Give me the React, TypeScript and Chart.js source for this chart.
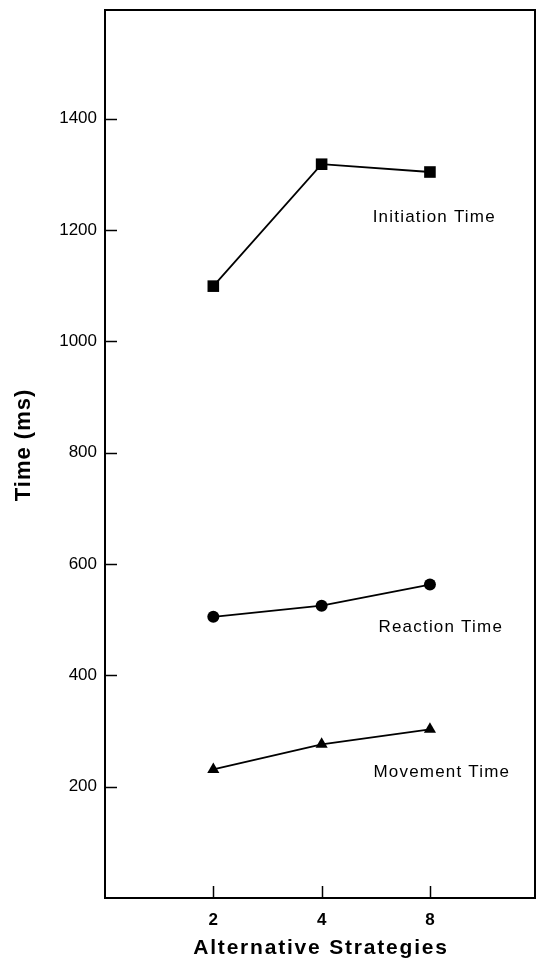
import React, { useEffect, useRef } from "react";
import { Chart, registerables } from "chart.js";

Chart.register(...registerables);

const xCategories = ["2", "4", "8"];
const xPositions = [1, 2, 3];
const initiationTime = [1099, 1318, 1304];
const reactionTime = [505, 525, 563];
const movementTime = [231, 276, 303];
const yTickValues = [200, 400, 600, 800, 1000, 1200, 1400];
const seriesLabels = ["Initiation Time", "Reaction Time", "Movement Time"];
const labelAnchorX = [3.04, 3.1, 3.11];
const labelAnchorY = [1223, 487, 225];
const xAxisTitle = "Alternative Strategies";
const yAxisTitle = "Time (ms)";

const FONT = '"Liberation Sans", Arial, sans-serif';

const toPoints = (vals: number[]) => vals.map((v, i) => ({ x: xPositions[i], y: v }));

const framePlugin = {
  id: "framePlugin",
  afterDraw(chart: any) {
    const { ctx, chartArea, scales } = chart;
    const { left, right, top, bottom } = chartArea;
    const x = scales.x;
    const y = scales.y;
    ctx.save();
    ctx.strokeStyle = "#000";
    ctx.lineWidth = 2;
    ctx.strokeRect(left, top, right - left, bottom - top);
    ctx.lineWidth = 1.5;
    yTickValues.forEach((v) => {
      const py = Math.round(y.getPixelForValue(v)) + 0.5;
      ctx.beginPath();
      ctx.moveTo(left, py);
      ctx.lineTo(left + 12, py);
      ctx.stroke();
    });
    xPositions.forEach((v) => {
      const px = Math.round(x.getPixelForValue(v)) + 0.5;
      ctx.beginPath();
      ctx.moveTo(px, bottom);
      ctx.lineTo(px, bottom - 12);
      ctx.stroke();
    });
    ctx.fillStyle = "#000";
    ctx.font = `17px ${FONT}`;
    (ctx as any).letterSpacing = "1.2px";
    ctx.textAlign = "center";
    ctx.textBaseline = "middle";
    seriesLabels.forEach((t, i) => {
      ctx.fillText(t, x.getPixelForValue(labelAnchorX[i]), y.getPixelForValue(labelAnchorY[i]));
    });
    ctx.font = `bold 21px ${FONT}`;
    (ctx as any).letterSpacing = "1.8px";
    ctx.textBaseline = "alphabetic";
    ctx.fillText(xAxisTitle, (left + right) / 2 + 1, bottom + 56);
    ctx.font = `bold 22px ${FONT}`;
    (ctx as any).letterSpacing = "1px";
    ctx.translate(24, (top + bottom) / 2 - 9);
    ctx.rotate(-Math.PI / 2);
    ctx.textBaseline = "middle";
    ctx.fillText(yAxisTitle, 0, 0);
    ctx.restore();
  },
};

const zeroPad = (scale: any) => {
  scale.paddingTop = 0;
  scale.paddingBottom = 0;
  scale.paddingLeft = 0;
  scale.paddingRight = 0;
};

export default function App() {
  const ref = useRef<HTMLCanvasElement | null>(null);
  useEffect(() => {
    if (!ref.current) return;
    const common = {
      borderColor: "#000",
      borderWidth: 1.8,
      pointBackgroundColor: "#000",
      pointBorderWidth: 0,
      fill: false,
      tension: 0,
    };
    const chart = new Chart(ref.current, {
      type: "line",
      data: {
        datasets: [
          { ...common, label: seriesLabels[0], data: toPoints(initiationTime), pointStyle: "rect", pointRadius: 8.2 },
          { ...common, label: seriesLabels[1], data: toPoints(reactionTime), pointStyle: "circle", pointRadius: 6 },
          { ...common, label: seriesLabels[2], data: toPoints(movementTime), pointStyle: "triangle", pointRadius: 7 },
        ],
      },
      options: {
        animation: false,
        responsive: false,
        maintainAspectRatio: false,
        layout: { autoPadding: false, padding: { top: 10, right: 1, bottom: 0, left: 0 } },
        plugins: { legend: { display: false }, tooltip: { enabled: false }, title: { display: false } },
        scales: {
          x: {
            type: "linear",
            min: 0,
            max: 3.97,
            grid: { display: false, drawTicks: false },
            border: { display: false },
            afterBuildTicks: (scale: any) => {
              scale.ticks = xPositions.map((v) => ({ value: v }));
            },
            afterFit: (scale: any) => {
              scale.height = 65;
              zeroPad(scale);
            },
            ticks: {
              padding: 12,
              color: "#000",
              font: { family: FONT, size: 17, weight: "bold" },
              callback: (value: any) => {
                const i = xPositions.indexOf(Number(value));
                return i >= 0 ? xCategories[i] : "";
              },
              maxRotation: 0,
              autoSkip: false,
            },
          },
          y: {
            type: "linear",
            min: 0,
            max: 1595,
            grid: { display: false, drawTicks: false },
            border: { display: false },
            afterBuildTicks: (scale: any) => {
              scale.ticks = yTickValues.map((v) => ({ value: v }));
            },
            afterFit: (scale: any) => {
              scale.width = 105;
              zeroPad(scale);
            },
            ticks: {
              padding: 8,
              color: "#000",
              font: { family: FONT, size: 17 },
              autoSkip: false,
              callback: (value: any) => String(value),
            },
          },
        },
      },
      plugins: [framePlugin],
    } as any);
    return () => chart.destroy();
  }, []);
  return (
    <div style={{ position: "absolute", left: 0, top: 0, width: 536, height: 963, background: "#fff" }}>
      <canvas ref={ref} width={536} height={963} style={{ display: "block", width: 536, height: 963 }} />
    </div>
  );
}
